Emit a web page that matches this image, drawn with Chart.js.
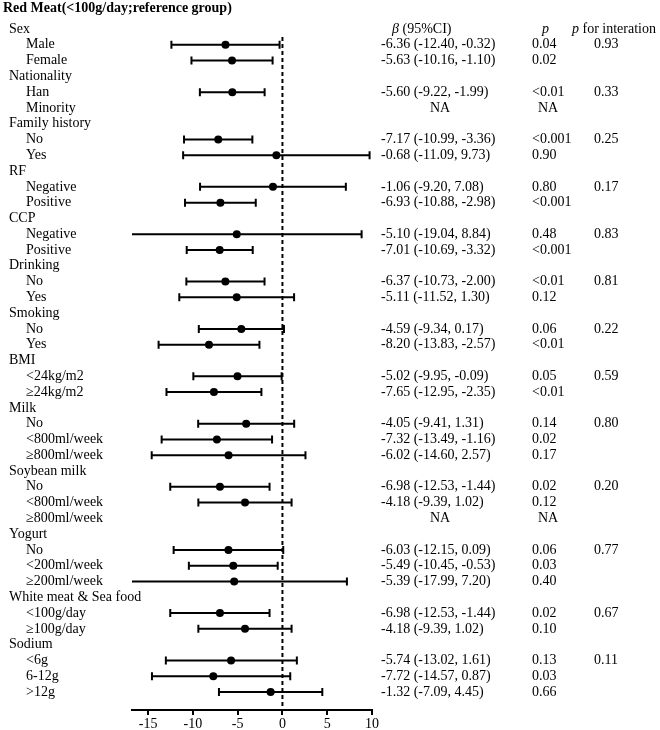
<!DOCTYPE html>
<html>
<head>
<meta charset="utf-8">
<script src="https://cdn.jsdelivr.net/npm/chart.js@4.4.1/dist/chart.umd.min.js"></script>
<style>
  body { margin: 0; background: #fff; }
</style>
</head>
<body>
<canvas id="forest" width="660" height="730"></canvas>
<script>
// ---- data ----
const chartTitle = 'Red Meat(<100g/day;reference group)';
const rowLabels = [
    'Sex', 'Male', 'Female',
    'Nationality', 'Han', 'Minority',
    'Family history', 'No', 'Yes',
    'RF', 'Negative', 'Positive',
    'CCP', 'Negative', 'Positive',
    'Drinking', 'No', 'Yes',
    'Smoking', 'No', 'Yes',
    'BMI', '<24kg/m2', '≥24kg/m2',
    'Milk', 'No', '<800ml/week', '≥800ml/week',
    'Soybean milk', 'No', '<800ml/week', '≥800ml/week',
    'Yogurt', 'No', '<200ml/week', '≥200ml/week',
    'White meat & Sea food', '<100g/day', '≥100g/day',
    'Sodium', '<6g', '6-12g', '>12g'
];
// 0 = group heading, 1 = subgroup
const rowLevel = [
    0, 1, 1,
    0, 1, 1,
    0, 1, 1,
    0, 1, 1,
    0, 1, 1,
    0, 1, 1,
    0, 1, 1,
    0, 1, 1,
    0, 1, 1, 1,
    0, 1, 1, 1,
    0, 1, 1, 1,
    0, 1, 1,
    0, 1, 1, 1
];
const estimates = [
    null, -6.36, -5.63,
    null, -5.60, null,
    null, -7.17, -0.68,
    null, -1.06, -6.93,
    null, -5.10, -7.01,
    null, -6.37, -5.11,
    null, -4.59, -8.20,
    null, -5.02, -7.65,
    null, -4.05, -7.32, -6.02,
    null, -6.98, -4.18, null,
    null, -6.03, -5.49, -5.39,
    null, -6.98, -4.18,
    null, -5.74, -7.72, -1.32
];
const lowerCI = [
    null, -12.40, -10.16,
    null, -9.22, null,
    null, -10.99, -11.09,
    null, -9.20, -10.88,
    null, -19.04, -10.69,
    null, -10.73, -11.52,
    null, -9.34, -13.83,
    null, -9.95, -12.95,
    null, -9.41, -13.49, -14.60,
    null, -12.53, -9.39, null,
    null, -12.15, -10.45, -17.99,
    null, -12.53, -9.39,
    null, -13.02, -14.57, -7.09
];
const upperCI = [
    null, -0.32, -1.10,
    null, -1.99, null,
    null, -3.36, 9.73,
    null, 7.08, -2.98,
    null, 8.84, -3.32,
    null, -2.00, 1.30,
    null, 0.17, -2.57,
    null, -0.09, -2.35,
    null, 1.31, -1.16, 2.57,
    null, -1.44, 1.02, null,
    null, 0.09, -0.53, 7.20,
    null, -1.44, 1.02,
    null, 1.61, 0.87, 4.45
];
const pValues = [
    '', '0.04', '0.02',
    '', '<0.01', 'NA',
    '', '<0.001', '0.90',
    '', '0.80', '<0.001',
    '', '0.48', '<0.001',
    '', '<0.01', '0.12',
    '', '0.06', '<0.01',
    '', '0.05', '<0.01',
    '', '0.14', '0.02', '0.17',
    '', '0.02', '0.12', 'NA',
    '', '0.06', '0.03', '0.40',
    '', '0.02', '0.10',
    '', '0.13', '0.03', '0.66'
];
const pInteraction = [
    '', '0.93', '',
    '', '0.33', '',
    '', '0.25', '',
    '', '0.17', '',
    '', '0.83', '',
    '', '0.81', '',
    '', '0.22', '',
    '', '0.59', '',
    '', '0.80', '', '',
    '', '0.20', '', '',
    '', '0.77', '', '',
    '', '0.67', '',
    '', '0.11', '', ''
];
const xTicks = [-15, -10, -5, 0, 5, 10];

// ---- build datasets ----
const serif = "'Liberation Serif', 'Times New Roman', serif";
const whiskerPts = [];
const capPts = [];
const estPts = [];
estimates.forEach((est, i) => {
    if (est === null) return;
    whiskerPts.push({x: lowerCI[i], y: i}, {x: upperCI[i], y: i}, {x: null, y: i});
    capPts.push({x: lowerCI[i], y: i}, {x: upperCI[i], y: i});
    estPts.push({x: est, y: i});
});
const lastRow = rowLabels.length - 1;

const textColumns = {
    id: 'textColumns',
    afterDraw(chart) {
        const {ctx} = chart;
        const y = chart.scales.y;
        const normal = '14px ' + serif;
        const italic = 'italic 14px ' + serif;
        ctx.save();
        ctx.fillStyle = '#000';
        ctx.textBaseline = 'middle';
        ctx.textAlign = 'left';

        // headers (same line as first group)
        const hy = y.getPixelForValue(0);
        ctx.font = italic;
        ctx.fillText('β', 392, hy);
        let w = ctx.measureText('β').width;
        ctx.font = normal;
        ctx.fillText(' (95%CI)', 392 + w, hy);
        ctx.font = italic;
        ctx.fillText('p', 542, hy);
        ctx.fillText('p', 572, hy);
        w = ctx.measureText('p').width;
        ctx.font = normal;
        ctx.fillText(' for interation', 572 + w, hy);

        rowLabels.forEach((label, i) => {
            const py = y.getPixelForValue(i);
            ctx.font = normal;
            ctx.textAlign = 'left';
            ctx.fillText(label, rowLevel[i] ? 26 : 9, py);
            if (estimates[i] !== null) {
                const txt = estimates[i].toFixed(2) + ' (' + lowerCI[i].toFixed(2) + ', ' + upperCI[i].toFixed(2) + ')';
                ctx.fillText(txt, 381, py);
            } else if (pValues[i] === 'NA') {
                ctx.textAlign = 'center';
                ctx.fillText('NA', 440, py);
            }
            if (pValues[i] === 'NA') {
                ctx.textAlign = 'center';
                ctx.fillText('NA', 548, py);
            } else if (pValues[i]) {
                ctx.textAlign = 'left';
                ctx.fillText(pValues[i], 532, py);
            }
            if (pInteraction[i]) {
                ctx.textAlign = 'left';
                ctx.fillText(pInteraction[i], 594, py);
            }
        });
        ctx.restore();
    }
};

const chart = new Chart(document.getElementById('forest'), {
    type: 'line',
    data: {
        datasets: [
            {
                // reference line at 0
                data: [{x: 0, y: 0.5}, {x: 0, y: lastRow + 1.14}],
                borderColor: '#000',
                borderWidth: 2,
                borderDash: [4, 3],
                pointRadius: 0
            },
            {
                data: whiskerPts,
                borderColor: '#000',
                borderWidth: 2,
                pointRadius: 0,
                spanGaps: false
            },
            {
                data: capPts,
                showLine: false,
                pointStyle: 'line',
                rotation: 90,
                pointRadius: 4,
                pointBorderWidth: 2,
                pointBorderColor: '#000'
            },
            {
                data: estPts,
                showLine: false,
                pointStyle: 'circle',
                pointRadius: 4,
                pointBorderWidth: 0,
                pointBackgroundColor: '#000'
            }
        ]
    },
    options: {
        responsive: false,
        animation: false,
        devicePixelRatio: 1,
        layout: {
            padding: {left: 3, right: 288, top: 0, bottom: 0}
        },
        scales: {
            x: {
                type: 'linear',
                min: -16.8,
                max: 10,
                afterBuildTicks: (scale) => {
                    scale.ticks = xTicks.map(v => ({value: v}));
                },
                afterFit: (scale) => {
                    scale.height = 20;
                },
                ticks: {
                    color: '#000',
                    padding: 1,
                    maxRotation: 0,
                    font: {family: serif, size: 14}
                },
                grid: {
                    drawOnChartArea: false,
                    drawTicks: true,
                    tickLength: 5,
                    color: '#000',
                    lineWidth: 2
                },
                border: {display: true, color: '#000', width: 2}
            },
            y: {
                type: 'linear',
                reverse: true,
                min: -0.52,
                max: lastRow + 1.14,
                afterFit: (scale) => {
                    scale.width = 129;
                },
                ticks: {display: false},
                grid: {display: false},
                border: {display: false}
            }
        },
        plugins: {
            legend: {display: false},
            tooltip: {enabled: false},
            title: {
                display: true,
                text: chartTitle,
                align: 'start',
                color: '#000',
                font: {family: serif, size: 14, weight: 'bold'},
                padding: {top: 0, bottom: 4}
            }
        }
    },
    plugins: [textColumns]
});
</script>
</body>
</html>
